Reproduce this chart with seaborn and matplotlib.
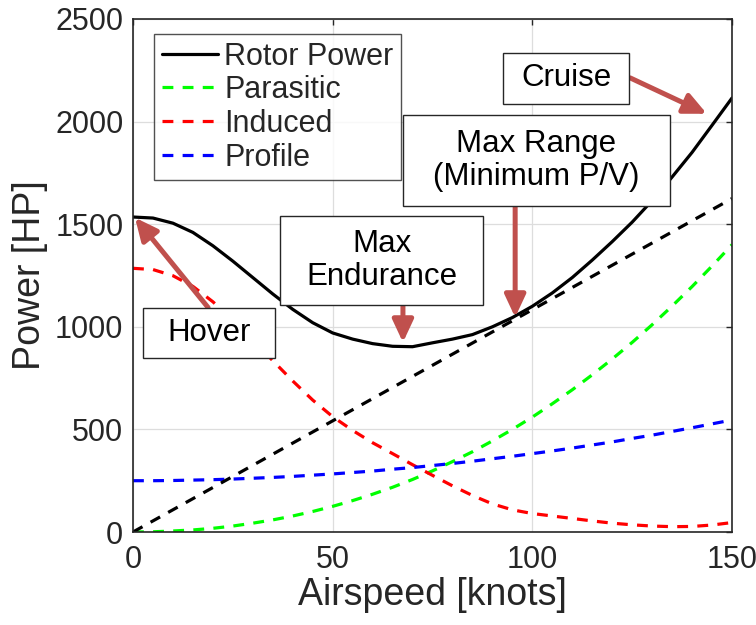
import numpy as np
import pandas as pd
import matplotlib
matplotlib.use("Agg")
import matplotlib.pyplot as plt
from matplotlib.patches import Rectangle
import seaborn as sns

# ---- data ----
airspeed = [0, 5, 10, 15, 20, 25, 30, 35, 40, 45, 50, 55, 60, 65, 70, 75,
            80, 85, 90, 95, 100, 105, 110, 115, 120, 125, 130, 135, 140, 145, 150]
rotor_power = [1535, 1530, 1505, 1460, 1395, 1320, 1240, 1160, 1085, 1020, 970,
               940, 918, 905, 903, 922, 940, 962, 1000, 1045, 1100, 1165, 1240,
               1325, 1415, 1510, 1615, 1730, 1850, 1982, 2115]
parasitic = [0, 1, 5, 10, 18, 29, 43, 59, 78, 100, 125, 153, 184, 218, 256, 298,
             343, 391, 444, 500, 560, 625, 693, 766, 843, 924, 1010, 1101, 1196,
             1296, 1400]
induced = [1285, 1279, 1249, 1197, 1122, 1033, 935, 835, 736, 643, 562, 495, 435,
           382, 328, 276, 225, 178, 137, 108, 90, 78, 66, 54, 43, 35, 29, 26, 27,
           34, 46]
profile = [250, 250, 251, 253, 255, 258, 262, 266, 271, 277, 283, 290, 297, 306,
           314, 324, 334, 345, 357, 369, 382, 395, 409, 424, 439, 456, 472, 490,
           508, 527, 546]
tangent_x = [0, 150]
tangent_y = [0, 1625]

series_names = ["Rotor Power", "Parasitic", "Induced", "Profile"]
series_colors = ["#000000", "#00FF00", "#FF0000", "#0000FF"]
x_ticks = [0, 50, 100, 150]
y_ticks = [0, 500, 1000, 1500, 2000, 2500]

notes = ["Hover", "Max\nEndurance", "Max Range\n(Minimum P/V)", "Cruise"]

# ---- style ----
sns.set_theme(style="white")
plt.rcParams["font.family"] = ["Liberation Sans", "DejaVu Sans"]

fig = plt.figure(figsize=(7.56, 6.25), dpi=100)
ax = fig.add_axes([133 / 756, 1 - 532 / 625, 599 / 756, 513 / 625])

dash = (0, (3.4, 2.9))
lw = 2.3
series_values = [rotor_power, parasitic, induced, profile]
for name, vals, col in zip(series_names, series_values, series_colors):
    ls = "-" if name == "Rotor Power" else dash
    sns.lineplot(x=airspeed, y=vals, color=col, linewidth=lw, linestyle=ls,
                 label=name, ax=ax, zorder=3)
sns.lineplot(x=tangent_x, y=tangent_y, color="black", linewidth=lw,
             linestyle=dash, label="_nolegend_", ax=ax, zorder=3)

ax.set_xlim(0, 150)
ax.set_ylim(0, 2500)
ax.set_xticks(x_ticks)
ax.set_yticks(y_ticks)
ax.grid(True, color="#DDDDDD", linewidth=0.9, zorder=0)
ax.tick_params(axis="both", direction="in", length=4, width=1, colors="#262626",
               labelsize=22, top=True, right=True, pad=7)
ax.tick_params(axis="x", pad=9)
for s in ax.spines.values():
    s.set_color("#262626")
    s.set_linewidth(1.2)
    s.set_zorder(6)
ax.set_xlabel("Airspeed [knots]", fontsize=27, color="#262626", labelpad=2)
ax.set_ylabel("Power [HP]", fontsize=27, color="#262626", labelpad=5)

leg = ax.legend(loc="upper left", bbox_to_anchor=(0.035, 0.971), fontsize=22,
                frameon=True, fancybox=False, edgecolor="#262626",
                handlelength=1.85, handletextpad=0.2, labelspacing=0.12,
                borderpad=0.25, borderaxespad=0)
leg.get_frame().set_linewidth(1.0)
leg.set_zorder(10)

# ---- annotation boxes (data coordinates: x0, x1, y0, y1) ----
boxes = [(2.5, 35.6, 846, 1094), (36.8, 87.7, 1104, 1542),
         (67.6, 134.5, 1590, 2033), (92.7, 124.2, 2087, 2335)]
for (x0, x1, y0, y1), txt in zip(boxes, notes):
    ax.add_patch(Rectangle((x0, y0), x1 - x0, y1 - y0, facecolor="white",
                           edgecolor="#262626", linewidth=1.0, zorder=8))
    ax.text((x0 + x1) / 2, (y0 + y1) / 2, txt, ha="center", va="center",
            fontsize=22.5, color="black", zorder=9, linespacing=1.15)

arrow_col = "#C0504D"
arrows = [((18.8, 1094), (0.5, 1532)), ((67.6, 1104), (67.6, 924)),
          ((95.7, 1590), (95.7, 1046)), ((124.5, 2213), (143.7, 2038))]
for tail, tip in arrows:
    ax.annotate("", xy=tip, xytext=tail,
                arrowprops=dict(arrowstyle="-|>,head_length=0.75,head_width=0.35",
                                mutation_scale=18, color=arrow_col, lw=3.6,
                                shrinkA=0, shrinkB=0),
                zorder=7)

fig.savefig("out.png", dpi=100)
